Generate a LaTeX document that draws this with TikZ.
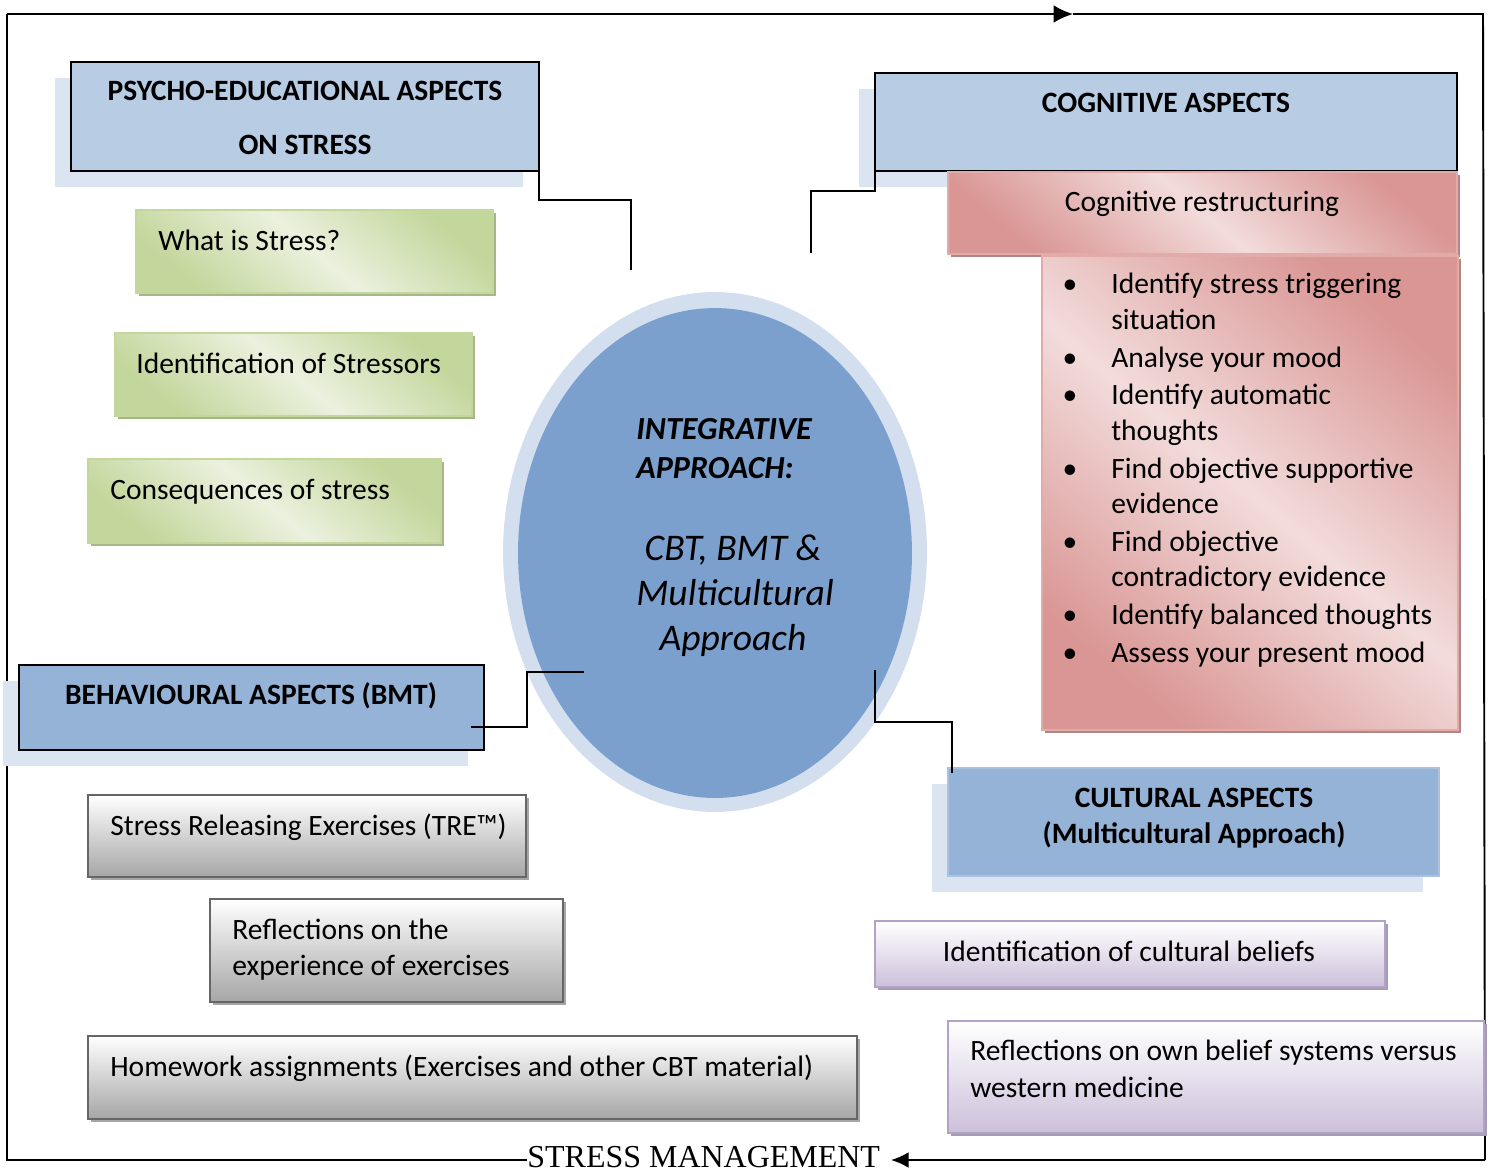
\documentclass[tikz,border=0pt]{standalone}
\usepackage{fontspec}
\setmainfont{Carlito}
\newfontfamily\mgmtfont{Liberation Serif}
\usepackage{tikz}
\usetikzlibrary{arrows.meta, positioning, shapes.geometric, shadows}
\definecolor{headblue}{HTML}{B8CCE4}
\definecolor{shadeblue}{HTML}{DBE5F1}
\definecolor{aspectblue}{HTML}{95B3D7}
\definecolor{ringblue}{HTML}{D3DFEE}
\definecolor{coreblue}{HTML}{7BA0CD}
\definecolor{leafgreen}{HTML}{C3D69B}
\definecolor{palegreen}{HTML}{EBF1DE}
\definecolor{mossgray}{HTML}{A6B888}
\definecolor{rosered}{HTML}{D99694}
\definecolor{palerose}{HTML}{F2DCDB}
\definecolor{roseshadow}{HTML}{B08687}
\definecolor{lilac}{HTML}{CCC0DA}
\definecolor{lilacline}{HTML}{B3A2C7}
\definecolor{lilacshadow}{HTML}{A79CB5}

\begin{document}
\begin{tikzpicture}[x=0.02cm, y=-0.02cm,
    txt/.style={inner sep=0pt, font=\fontsize{16.8}{20.5}\selectfont},
    headtxt/.style={inner sep=0pt, font=\fontsize{16.8}{20.5}\selectfont\bfseries},
    plainbox/.style={rectangle, anchor=north west, inner sep=0pt, outer sep=0pt, line width=1.1pt},
    aspectbox/.style={plainbox, draw=black, drop shadow={shadow xshift=-0.32cm, shadow yshift=-0.32cm, fill=shadeblue, opacity=1}},
    greenbox/.style={plainbox, draw=leafgreen, top color=leafgreen, bottom color=leafgreen, middle color=palegreen, shading angle=-40, drop shadow={shadow xshift=0.06cm, shadow yshift=-0.06cm, fill=mossgray, opacity=1}},
    rosebox/.style={plainbox, draw=rosered!80, top color=rosered, bottom color=rosered, middle color=palerose, shading angle=-40, drop shadow={shadow xshift=0.06cm, shadow yshift=-0.06cm, fill=roseshadow, opacity=1}},
    greybox/.style={plainbox, draw=black!60, top color=white, bottom color=black!35, drop shadow={shadow xshift=0.06cm, shadow yshift=-0.06cm, fill=black!35, opacity=1}},
    lilacbox/.style={plainbox, draw=lilacline, top color=white, bottom color=lilac, drop shadow={shadow xshift=0.06cm, shadow yshift=-0.06cm, fill=lilacshadow, opacity=1}},
    link/.style={line width=1.1pt}]
    \useasboundingbox (0,0) rectangle (1502,1171);

    % Outer frame
    \coordinate (tl) at (7,14);
    \coordinate (tmid) at (1073,14);
    \coordinate (tr) at (1483,14);
    \coordinate (br) at (1485,1160);
    \coordinate (bl) at (7,1160);
    \coordinate (mtip) at (891,1160);
    \node[inner sep=0pt, anchor=base west, font=\mgmtfont\fontsize{18.2}{20}\selectfont] (mgmt) at (527,1167) {STRESS MANAGEMENT};
    \draw[link, -{Latex[length=11pt, width=10pt]}] (tl) -- (tmid);
    \draw[link] (tmid) -- (tr) -- (br);
    \draw[link, -{Latex[length=10pt, width=9pt]}] (br) -- (mtip);
    \draw[link] (tl) -- (bl) -- (bl -| mgmt.west);

    % Centre
    \node[ellipse, inner sep=0pt, fill=ringblue, minimum width=8.48cm, minimum height=10.4cm] (ring) at (715,552) {};
    \node[ellipse, inner sep=0pt, fill=coreblue, minimum width=7.88cm, minimum height=9.8cm] (core) at (715,553) {};
    \node[inner sep=0pt, anchor=base west, font=\fontsize{18.3}{22}\selectfont\bfseries\itshape] (integ) at (636,439) {INTEGRATIVE};
    \node[inner sep=0pt, anchor=base west, font=\fontsize{18.3}{22}\selectfont\bfseries\itshape] (appr) at (636,478) {APPROACH:};
    \node[inner sep=0pt, anchor=base, font=\fontsize{21.4}{25}\selectfont\itshape] (cbt) at (733,560) {CBT, BMT \&};
    \node[inner sep=0pt, anchor=base, font=\fontsize{21.4}{25}\selectfont\itshape] (multi) at (735,605) {Multicultural};
    \node[inner sep=0pt, anchor=base, font=\fontsize{21.4}{25}\selectfont\itshape] (apprc) at (733,650) {Approach};

    % Psycho-educational aspects
    \node[aspectbox, fill=headblue, minimum width=9.36cm, minimum height=2.18cm] (psycho) at (71,62) {};
    \node[headtxt, anchor=base] (psycho1) at (305,100) {PSYCHO-EDUCATIONAL ASPECTS};
    \node[headtxt, anchor=base] (psycho2) at (305,154) {ON STRESS};
    \node[greenbox, minimum width=7.14cm, minimum height=1.66cm] (what) at (136,210) {};
    \node[txt, anchor=base west] (whatt) at (158,250) {What is Stress?};
    \node[greenbox, minimum width=7.14cm, minimum height=1.66cm] (ident) at (115,333) {};
    \node[txt, anchor=base west] (identt) at (136,373) {Identification of Stressors};
    \node[greenbox, minimum width=7.06cm, minimum height=1.68cm] (conseq) at (88,459) {};
    \node[txt, anchor=base west] (conseqt) at (110,499) {Consequences of stress};

    % Cognitive aspects
    \node[aspectbox, fill=headblue, minimum width=11.64cm, minimum height=1.96cm] (cog) at (875,73) {};
    \node[headtxt, anchor=base] (cogt) at (1166,112) {COGNITIVE ASPECTS};
    \node[rosebox, minimum width=10.18cm, minimum height=1.64cm] (restr) at (948,172) {};
    \node[txt, anchor=base] (restrt) at (1202,211) {Cognitive restructuring};
    \node[rosebox, minimum width=8.32cm, minimum height=9.48cm] (steps) at (1042,256) {};
    \foreach \y/\t [count=\i] in {293/Identify stress triggering, 329/situation, 367/Analyse your mood,
        404/Identify automatic, 440/thoughts, 478/Find objective supportive, 513/evidence,
        551/Find objective, 586/contradictory evidence, 624/Identify balanced thoughts, 662/Assess your present mood}
        \node[txt, anchor=base west] (step\i) at (1111,\y) {\t};
    \foreach \y [count=\i] in {293,367,404,478,551,624,662}
        \node[txt, anchor=base] (dot\i) at (1070,\y) {\textbullet};

    % Behavioural aspects
    \node[aspectbox, fill=aspectblue, minimum width=9.30cm, minimum height=1.70cm] (beh) at (19,665) {};
    \node[headtxt, anchor=base] (beht) at (251,704) {BEHAVIOURAL ASPECTS (BMT)};
    \node[greybox, minimum width=8.76cm, minimum height=1.64cm] (tre) at (88,795) {};
    \node[txt, anchor=base west] (tret) at (110,835) {Stress Releasing Exercises (TRE™)};
    \node[greybox, minimum width=7.06cm, minimum height=2.06cm] (refl) at (210,899) {};
    \node[txt, anchor=base west] (refl1) at (232,939) {Reflections on the};
    \node[txt, anchor=base west] (refl2) at (232,975) {experience of exercises};
    \node[greybox, minimum width=15.38cm, minimum height=1.66cm] (home) at (88,1036) {};
    \node[txt, anchor=base west] (homet) at (110,1076) {Homework assignments (Exercises and other CBT material)};

    % Cultural aspects
    \node[aspectbox, draw=aspectblue!80!white, fill=aspectblue, minimum width=9.82cm, minimum height=2.16cm] (cul) at (948,768) {};
    \node[headtxt, anchor=base] (cul1) at (1194,807) {CULTURAL ASPECTS};
    \node[headtxt, anchor=base] (cul2) at (1194,843) {(Multicultural Approach)};
    \node[lilacbox, minimum width=10.2cm, minimum height=1.32cm] (belief) at (875,921) {};
    \node[txt, anchor=base] (belieft) at (1129,961) {Identification of cultural beliefs};
    \node[lilacbox, minimum width=10.72cm, minimum height=2.24cm] (west) at (948,1021) {};
    \node[txt, anchor=base west] (west1) at (970,1060) {Reflections on own belief systems versus};
    \node[txt, anchor=base west] (west2) at (970,1097) {western medicine};

    % Connectors
    \coordinate (pe) at (631,270);
    \coordinate (ce) at (811,253);
    \coordinate (bs) at (471,727);
    \coordinate (be) at (584,672);
    \coordinate (cs) at (875,670);
    \draw[link] (psycho.south east) -- ++(0,29) -| (pe);
    \draw[link] (cog.south west) -- ++(0,20) -| (ce);
    \draw[link] (bs) -- ++(56,0) |- (be);
    \draw[link] (cs) -- ++(0,52) -| ([shift={(4,5)}]cul.north west);

\end{tikzpicture}
\end{document}
